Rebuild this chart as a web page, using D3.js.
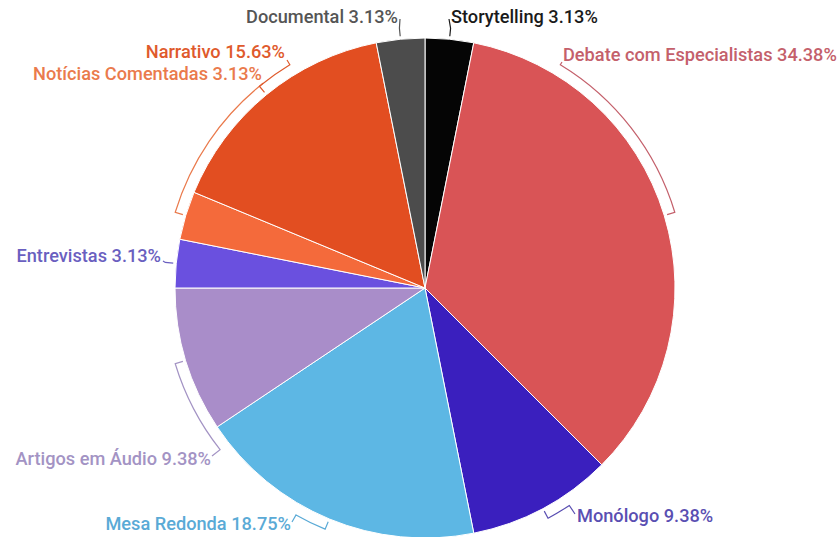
<!DOCTYPE html>
<html>
<head>
<meta charset="utf-8">
<script src="https://cdn.jsdelivr.net/npm/d3@7"></script>
<style>
  html, body { margin: 0; padding: 0; background: #fff; }
  svg { display: block; }
  text { font-family: Roboto, "Noto Sans", sans-serif; font-size: 18.2px; font-weight: 500; }
</style>
</head>
<body>
<svg id="chart" width="839" height="537"></svg>
<script>
// Formats, in drawing order (clockwise from 12 o'clock)
const categories = [
  "Storytelling", "Debate com Especialistas", "Monólogo", "Mesa Redonda",
  "Artigos em Áudio", "Entrevistas", "Notícias Comentadas", "Narrativo", "Documental"
];
const counts = [1, 11, 3, 6, 3, 1, 1, 5, 1];
const percentLabels = ["3.13%", "34.38%", "9.38%", "18.75%", "9.38%", "3.13%", "3.13%", "15.63%", "3.13%"];
const sliceColors = ["#050505", "#d95456", "#3a1fbe", "#5db7e4", "#a98dc9", "#6a50df", "#f46a3b", "#e24e21", "#4c4c4c"];
const labelColors = ["#1a1a1a", "#c4606b", "#5a4fb2", "#5aaad6", "#a393c4", "#6a5fc0", "#ea7a4c", "#df5a2c", "#555555"];

const svg = d3.select("#chart");
const cx = 425, cy = 288, R = 250;
const g = svg.append("g").attr("transform", `translate(${cx},${cy})`);

const pie = d3.pie().sort(null).value(d => d)(counts);
const arc = d3.arc().innerRadius(0).outerRadius(R);

g.selectAll("path.slice")
  .data(pie)
  .join("path")
  .attr("class", "slice")
  .attr("d", arc)
  .attr("fill", (d, i) => sliceColors[i])
  .attr("stroke", "#fff")
  .attr("stroke-width", 1);

// Label placement: text anchor point and where the leader meets the label (page coords)
const labelLayout = [
  { x: 451, y: 23, anchor: "start", ex: 449, ey: 19 },
  { x: 563, y: 61, anchor: "start", ex: 562, ey: 62 },
  { x: 577, y: 522, anchor: "start", ex: 575, ey: 514 },
  { x: 291, y: 530, anchor: "end", ex: 292, ey: 522 },
  { x: 211, y: 465, anchor: "end", ex: 212, ey: 456 },
  { x: 161, y: 262, anchor: "end", ex: 163, ey: 261 },
  { x: 262, y: 80, anchor: "end", ex: 262, ey: 83 },
  { x: 285, y: 58, anchor: "end", ex: 287, ey: 60 },
  { x: 398, y: 23, anchor: "end", ex: 400, ey: 19 }
];

// Leader: short radial tick at slice middle, then along the rim to the label
const rim = R + 11;
function leaderPath(d, L) {
  const mid = (d.startAngle + d.endAngle) / 2;
  const pt = (a, r) => [r * Math.sin(a), -r * Math.cos(a)];
  const ex = L.ex - cx, ey = L.ey - cy;
  let ea = Math.atan2(ex, -ey);
  if (ea < 0) ea += 2 * Math.PI;
  const p = d3.path();
  const a0 = pt(mid, R + 3);
  p.moveTo(a0[0], a0[1]);
  const a1 = pt(mid, rim);
  p.lineTo(a1[0], a1[1]);
  const er = Math.hypot(ex, ey);
  if (Math.abs(ea - mid) > 0.04 && er > R + 4) {
    p.arc(0, 0, rim, mid - Math.PI / 2, ea - Math.PI / 2, ea < mid);
  }
  p.lineTo(ex, ey);
  return p.toString();
}

g.selectAll("path.leader")
  .data(pie)
  .join("path")
  .attr("class", "leader")
  .attr("d", (d, i) => leaderPath(d, labelLayout[i]))
  .attr("fill", "none")
  .attr("stroke", (d, i) => labelColors[i])
  .attr("stroke-width", 1.2);

svg.selectAll("text.label")
  .data(pie)
  .join("text")
  .attr("class", "label")
  .attr("x", (d, i) => labelLayout[i].x)
  .attr("y", (d, i) => labelLayout[i].y)
  .attr("text-anchor", (d, i) => labelLayout[i].anchor)
  .attr("fill", (d, i) => labelColors[i])
  .text((d, i) => `${categories[i]} ${percentLabels[i]}`);
</script>
</body>
</html>
